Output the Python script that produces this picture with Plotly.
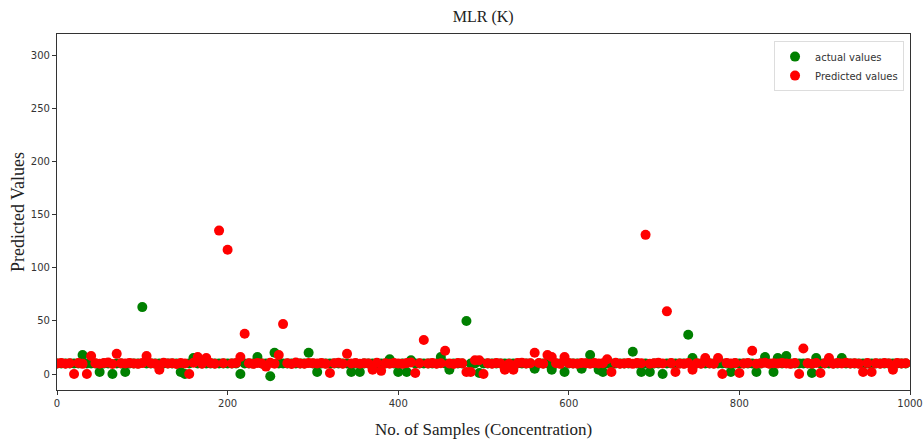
import plotly.graph_objects as go

# Sample numbers (every 5th sample shown)
sample_no = list(range(0, 1000, 5))

actual_values = [
    10, 10, 10, 10, 10, 10, 18, 10, 10, 10, 2, 10, 10, 0, 10, 10, 2, 10, 10, 10,
    63, 10, 10, 10, 10, 10, 10, 10, 10, 2, 0, 10, 15, 10, 10, 10, 10, 10, 10, 10,
    10, 10, 10, 0, 10, 10, 10, 16, 10, 10, -2, 20, 10, 10, 10, 10, 10, 10, 10, 20,
    10, 2, 10, 10, 10, 10, 10, 10, 10, 2, 10, 2, 10, 10, 10, 10, 10, 10, 14, 10,
    2, 10, 2, 13, 10, 10, 10, 10, 10, 10, 16, 10, 4, 10, 10, 10, 50, 10, 10, 1,
    10, 10, 10, 10, 10, 10, 10, 10, 10, 10, 10, 10, 5, 10, 10, 10, 4, 10, 10, 2,
    10, 10, 10, 5, 10, 18, 10, 4, 2, 10, 10, 10, 10, 10, 10, 21, 10, 2, 10, 2,
    10, 10, 0, 10, 10, 10, 10, 10, 37, 15, 10, 10, 10, 10, 10, 10, 10, 10, 2, 10,
    10, 10, 10, 10, 2, 10, 16, 10, 2, 15, 10, 17, 10, 10, 10, 10, 10, 1, 15, 10,
    10, 10, 10, 10, 15, 10, 10, 10, 10, 10, 10, 10, 10, 10, 10, 10, 10, 10, 10, 10,
]

predicted_values = [
    10, 10.5, 9.8, 10.2, 0, 10.4, 9.6, 0, 17, 10.1, 9.7, 10.3, 10.8, 9.4, 19, 10.2, 9.9, 10.5, 10, 9.6,
    10.3, 17, 10.1, 9.8, 4, 10.6, 9.9, 10.2, 9.5, 10.4, 10, 0, 10.7, 16, 9.8, 15, 10.3, 9.7, 135, 10.2,
    117, 9.9, 10.4, 16, 38, 10.1, 9.6, 10.5, 10, 7, 10.6, 9.8, 18, 47, 10.2, 9.5, 10.8, 10, 9.7, 10.3,
    10.1, 9.9, 10.5, 9.6, 1, 10.2, 10.7, 9.8, 19, 10, 10.4, 9.7, 10.2, 9.9, 4, 10.6, 3, 10.1, 9.8, 10.4,
    10, 9.6, 10.3, 10.8, 1, 10.1, 32, 9.9, 10.5, 9.7, 10.2, 22, 10, 9.5, 10.4, 10.1, 2, 2, 13, 13,
    0, 10.2, 9.8, 10.5, 10, 4, 9.7, 4, 10.3, 10.6, 9.9, 10.1, 20, 10.4, 9.8, 18, 16, 10.2, 9.6, 16,
    10.3, 10, 9.7, 10.5, 10.1, 9.8, 10.4, 9.9, 10.2, 14, 2, 10.6, 9.7, 10, 10.3, 9.6, 10.5, 10.1, 131, 9.8,
    10.2, 10.7, 9.9, 59, 10.3, 2, 10, 9.6, 10.4, 4, 10.1, 9.8, 15, 10.2, 9.7, 15, 0, 10.5, 9.9, 10.3,
    1, 10, 10.4, 22, 9.8, 10.2, 10.6, 9.7, 10.1, 9.9, 10.5, 10, 9.6, 10.3, 0, 24, 10.2, 9.8, 10.4, 1,
    10.1, 15, 9.7, 10.3, 10, 10.6, 9.9, 10.2, 9.8, 2, 10.4, 2, 10.1, 9.7, 10.3, 10, 4, 10.5, 9.9, 10.2,
]

x_ticks = [0, 200, 400, 600, 800, 1000]
y_ticks = [0, 50, 100, 150, 200, 250, 300]

serif = "Liberation Serif"
sans = "DejaVu Sans"

fig = go.Figure()
fig.add_trace(go.Scatter(
    x=sample_no, y=actual_values, mode="markers", name="actual values",
    marker=dict(color="green", size=10, line=dict(width=0)),
))
fig.add_trace(go.Scatter(
    x=sample_no, y=predicted_values, mode="markers", name="Predicted values",
    marker=dict(color="red", size=10, line=dict(width=0)),
))

axis_common = dict(
    showgrid=False, zeroline=False, showline=True, linecolor="#333", linewidth=1.2,
    mirror=True, ticks="outside", ticklen=4, tickcolor="#333", automargin=False,
    tickfont=dict(family=sans, size=10, color="#333"),
)

fig.update_layout(
    width=924, height=443,
    margin=dict(l=57, r=14, t=34, b=53),
    paper_bgcolor="white", plot_bgcolor="white",
    title=dict(text="MLR (K)", x=0.523, xanchor="center", y=0.962, yanchor="middle",
               yref="container",
               font=dict(family=serif, size=16, color="#222")),
    xaxis=dict(range=[0, 1000], tickvals=x_ticks,
               title=dict(text="No. of Samples (Concentration)", standoff=15,
                          font=dict(family=serif, size=17, color="#222")),
               **axis_common),
    yaxis=dict(range=[-15, 320], tickvals=y_ticks,
               title=dict(text="Predicted Values", standoff=1,
                          font=dict(family=serif, size=18, color="#222")),
               **axis_common),
    legend=dict(x=0.993, y=0.98, xanchor="right", yanchor="top",
                bgcolor="white", bordercolor="#ddd", borderwidth=1,
                font=dict(family=sans, size=10, color="#333"),
                itemwidth=30, tracegroupgap=0),
    showlegend=True,
)

fig.write_html("out.html", config={"displayModeBar": False},
               post_script="document.body.style.margin='0';")
